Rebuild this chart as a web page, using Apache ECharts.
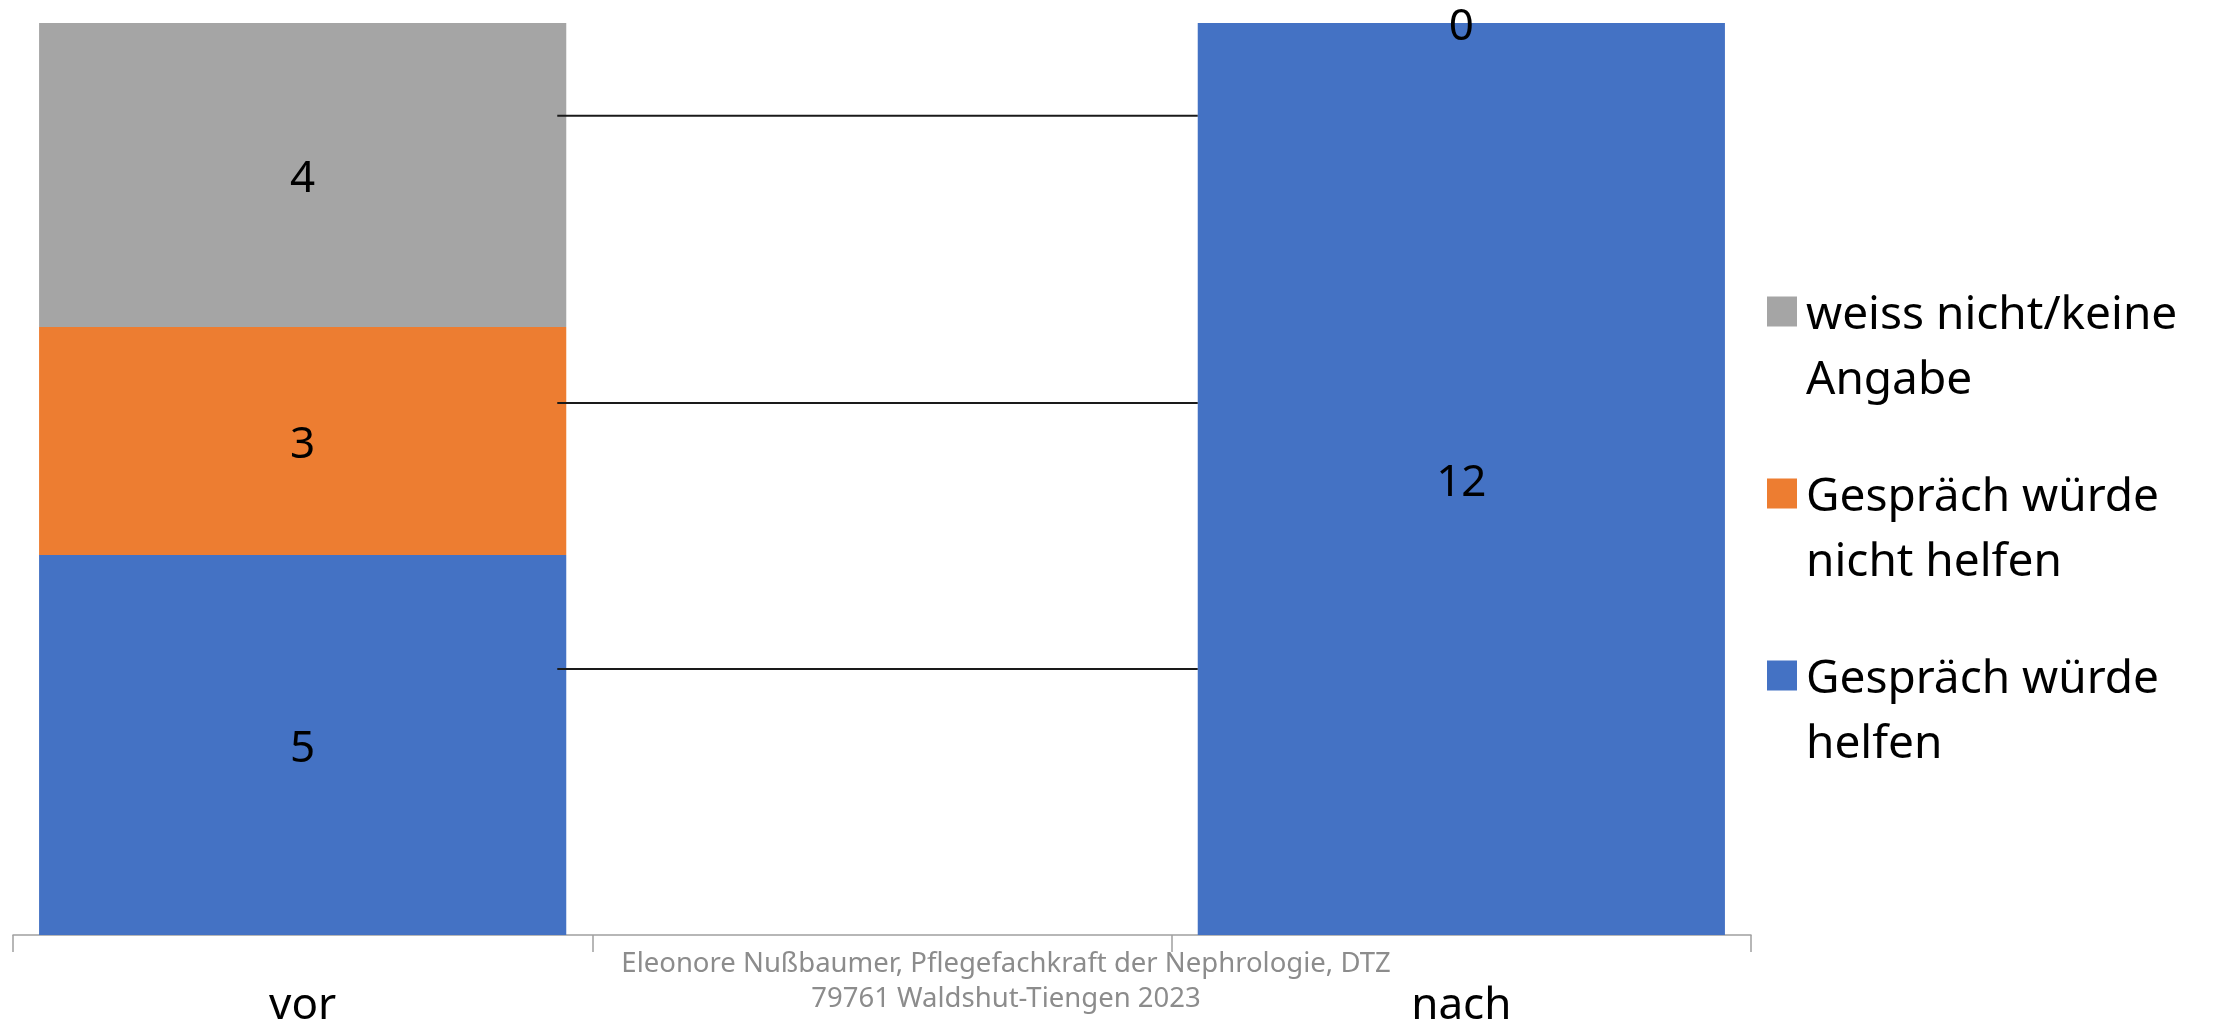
<!DOCTYPE html>
<html>
<head>
<meta charset="utf-8">
<title>Gespräch – vor / nach</title>
<script src="https://cdn.jsdelivr.net/npm/echarts@6/dist/echarts.min.js"></script>
<style>
  html, body { margin: 0; padding: 0; background: #ffffff; }
  #chart { width: 2213px; height: 1025px; }
</style>
</head>
<body>
<div id="chart"></div>
<script>
// Categories (the middle slot is an empty spacer between the two bars)
const categories = ['vor', '', 'nach'];

// Series names and values per category
const seriesNames = ['Gespräch würde helfen', 'Gespräch würde nicht helfen', 'weiss nicht/keine Angabe'];
const helfenValues = [5, null, 12];
const nichtHelfenValues = [3, null, 0];
const weissNichtValues = [4, null, null];

// Legend labels, broken over two lines
const legendLabels = {
  'weiss nicht/keine Angabe': 'weiss nicht/keine\nAngabe',
  'Gespräch würde nicht helfen': 'Gespräch würde\nnicht helfen',
  'Gespräch würde helfen': 'Gespräch würde\nhelfen'
};

// Levels of the connector lines drawn between the two bars
const connectorLevels = [3.5, 7, 10.78];

const footerLines = ['Eleonore Nußbaumer, Pflegefachkraft der Nephrologie, DTZ', '79761 Waldshut-Tiengen 2023'];

const colors = ['#4472C4', '#ED7D31', '#A5A5A5'];
const FONT = 'Noto Sans';
const GAP = 0.09;

// Legend marker: a square sitting at the top of a taller (invisible) box,
// so it lines up with the first line of the two-line legend text.
const LEGEND_LINE = 65;
const MARKER = 30;
const markerBoxH = MARKER + LEGEND_LINE + 8;
const legendIcon = 'path://M0,0h' + MARKER + 'v' + MARKER + 'h-' + MARKER + 'z'
  + 'M0,' + markerBoxH + 'h0.001v0.001h-0.001z';

const chart = echarts.init(document.getElementById('chart'));

const labelStyle = {
  show: true,
  position: 'inside',
  offset: [0, 4],
  color: '#000000',
  fontSize: 44,
  fontFamily: FONT,
  formatter: p => (p.value === null || p.value === undefined) ? '' : String(p.value)
};

function barSeries(name, data, color) {
  return {
    name: name,
    type: 'bar',
    stack: 'total',
    barCategoryGap: (GAP * 100) + '%',
    data: data,
    itemStyle: { color: color },
    label: labelStyle,
    emphasis: { disabled: true },
    z: 2
  };
}

chart.setOption({
  animation: false,
  textStyle: { fontFamily: FONT },
  grid: { left: 13, right: 462, top: 23, bottom: 90, containLabel: false, outerBoundsMode: 'none' },
  xAxis: {
    type: 'category',
    data: categories,
    boundaryGap: true,
    axisLine: { show: true, lineStyle: { color: '#a0a0a0', width: 1.5 } },
    axisTick: { show: true, alignWithLabel: false, length: 17, lineStyle: { color: '#a0a0a0', width: 1.5 } },
    axisLabel: { color: '#000000', fontSize: 44, fontFamily: FONT, margin: 49 }
  },
  yAxis: {
    type: 'value',
    min: 0,
    max: 12,
    show: false,
    splitLine: { show: false }
  },
  legend: {
    orient: 'vertical',
    left: 1762,
    top: 278,
    itemWidth: MARKER,
    itemHeight: markerBoxH,
    itemGap: 52,
    icon: legendIcon,
    data: [seriesNames[2], seriesNames[1], seriesNames[0]],
    formatter: name => legendLabels[name],
    textStyle: {
      color: '#000000',
      fontSize: 46,
      fontFamily: FONT,
      lineHeight: LEGEND_LINE,
      padding: [0, 0, 0, 4]
    },
    selectedMode: false
  },
  graphic: [{
    type: 'text',
    x: 1006,
    y: 982,
    style: {
      text: footerLines.join('\n'),
      fill: '#8c8c8c',
      font: '27.5px "' + FONT + '"',
      lineHeight: 35,
      align: 'center',
      verticalAlign: 'middle'
    }
  }],
  series: [
    barSeries(seriesNames[0], helfenValues, colors[0]),
    barSeries(seriesNames[1], nichtHelfenValues, colors[1]),
    barSeries(seriesNames[2], weissNichtValues, colors[2]),
    {
      type: 'custom',
      name: 'connectors',
      data: connectorLevels.map(v => [v]),
      z: 5,
      silent: true,
      encode: { y: 0 },
      renderItem: function (params, api) {
        const level = api.value(0);
        const left = api.coord([0, level]);
        const right = api.coord([2, level]);
        const band = api.size([1, 0])[0];
        const barW = band * (1 - GAP);
        return {
          type: 'line',
          shape: {
            x1: left[0] + barW / 2 - 9,
            y1: left[1],
            x2: right[0] - barW / 2,
            y2: right[1]
          },
          style: { stroke: '#1a1a1a', lineWidth: 2 }
        };
      }
    }
  ]
});
</script>
</body>
</html>
